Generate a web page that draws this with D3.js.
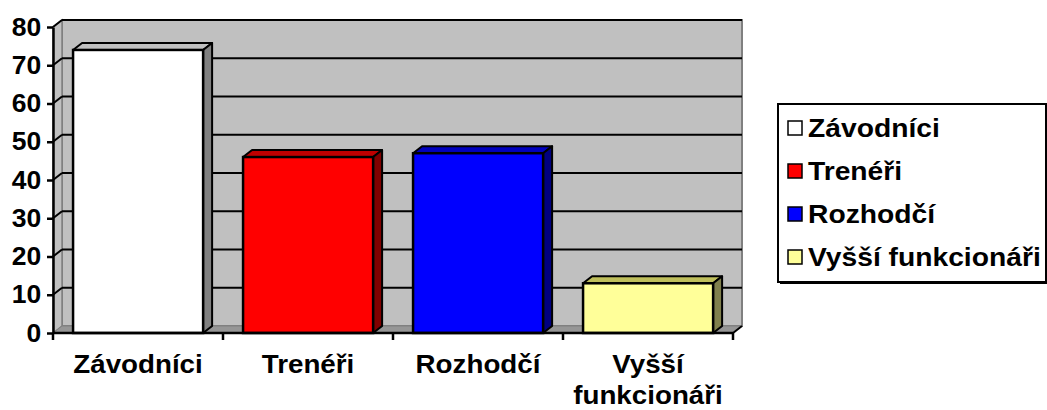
<!DOCTYPE html>
<html>
<head>
<meta charset="utf-8">
<script src="https://cdn.jsdelivr.net/npm/d3@7"></script>
<style>
    body { margin: 0; background: #fff; }
    text { font-family: "Liberation Sans", Arial, sans-serif; font-weight: bold; fill: #000; }
</style>
</head>
<body>
<script>
var categories = ["Závodníci", "Trenéři", "Rozhodčí", "Vyšší funkcionáři"];
var xLabels = [["Závodníci"], ["Trenéři"], ["Rozhodčí"], ["Vyšší", "funkcionáři"]];
var values = [74, 46, 47, 13];
var colors = ["#ffffff", "#ff0000", "#0000ff", "#ffff99"];
var yTicks = [0, 10, 20, 30, 40, 50, 60, 70, 80];

var width = 1047, height = 410;
var depthX = 9, depthY = -7;   // 3d offset of the back wall
var stretch = "scale(1.11,1)"; // text in the picture is a little wide

var x = d3.scaleBand().domain(categories).range([53, 733]);
var y = d3.scaleLinear().domain([0, 80]).range([333, 27]);

var svg = d3.select("body").append("svg")
    .attr("width", width)
    .attr("height", height);

function pts(arr) {
    return arr.map(function (p) { return p.join(","); }).join(" ");
}

var x0 = x.range()[0], x1 = x.range()[1];
var yTop = y(80), yBot = y(0);

// back wall
svg.append("rect")
    .attr("x", x0 + depthX)
    .attr("y", yTop + depthY)
    .attr("width", x1 - x0)
    .attr("height", yBot - yTop)
    .attr("fill", "#c0c0c0")
    .attr("stroke", "#808080")
    .attr("stroke-width", 2);

// left wall
svg.append("polygon")
    .attr("points", pts([[x0, yTop], [x0 + depthX, yTop + depthY], [x0 + depthX, yBot + depthY], [x0, yBot]]))
    .attr("fill", "#c0c0c0")
    .attr("stroke", "#808080")
    .attr("stroke-width", 1.5);

// floor
svg.append("polygon")
    .attr("points", pts([[x0, yBot], [x0 + depthX, yBot + depthY], [x1 + depthX, yBot + depthY], [x1, yBot]]))
    .attr("fill", "#969696")
    .attr("stroke", "#808080")
    .attr("stroke-width", 1);

// gridlines on walls
var grid = svg.append("g").attr("class", "grid");
yTicks.filter(function (d) { return d > 0; }).forEach(function (t) {
    grid.append("line")
        .attr("x1", x0 + depthX).attr("x2", x1 + depthX)
        .attr("y1", y(t) + depthY).attr("y2", y(t) + depthY)
        .attr("stroke", "#000").attr("stroke-width", 2);
    grid.append("line")
        .attr("x1", x0).attr("x2", x0 + depthX)
        .attr("y1", y(t)).attr("y2", y(t) + depthY)
        .attr("stroke", "#000").attr("stroke-width", 2);
});

// right end of floor edge
svg.append("line")
    .attr("x1", x1).attr("y1", yBot)
    .attr("x2", x1 + depthX).attr("y2", yBot + depthY)
    .attr("stroke", "#000").attr("stroke-width", 2);

// bars
var barW = x.bandwidth() * 0.765;
var barOff = x.bandwidth() * 0.118;
var bars = svg.selectAll("g.bar")
    .data(categories)
    .enter().append("g")
    .attr("class", "bar");

bars.each(function (c, i) {
    var g = d3.select(this);
    var bx = x(c) + barOff, by = y(values[i]);
    var base = d3.color(colors[i]);
    var top = d3.rgb(base.r * 0.75, base.g * 0.75, base.b * 0.6);
    var side = d3.rgb(base.r * 0.5, base.g * 0.5, base.b * 0.5);
    if (i === 2) { top = d3.rgb(0, 0, 191); side = d3.rgb(0, 0, 128); }
    if (i === 0) { top = d3.rgb(192, 192, 192); side = d3.rgb(128, 128, 128); }

    g.append("polygon")
        .attr("points", pts([[bx, by], [bx + depthX, by + depthY], [bx + barW + depthX, by + depthY], [bx + barW, by]]))
        .attr("fill", top)
        .attr("stroke", "#000").attr("stroke-width", 2).attr("stroke-linejoin", "round");
    g.append("polygon")
        .attr("points", pts([[bx + barW, by], [bx + barW + depthX, by + depthY], [bx + barW + depthX, yBot + depthY], [bx + barW, yBot]]))
        .attr("fill", side)
        .attr("stroke", "#000").attr("stroke-width", 2).attr("stroke-linejoin", "round");
    g.append("rect")
        .attr("x", bx).attr("y", by)
        .attr("width", barW).attr("height", yBot - by)
        .attr("fill", colors[i])
        .attr("stroke", "#000").attr("stroke-width", 2.5);
});

// y axis
var yAxis = d3.axisLeft(y).tickValues(yTicks).tickSize(6).tickSizeOuter(0).tickPadding(5);
var yG = svg.append("g")
    .attr("transform", "translate(" + x0 + ",0)")
    .call(yAxis);
yG.select(".domain").attr("stroke-width", 2.5);
yG.selectAll(".tick line").attr("stroke-width", 2.5);
yG.selectAll(".tick text")
    .attr("font-size", 25)
    .attr("font-family", null)
    .attr("transform", "scale(1.06,1)");

// x axis line and tick marks at category edges
svg.append("line")
    .attr("x1", x0).attr("x2", x1)
    .attr("y1", yBot).attr("y2", yBot)
    .attr("stroke", "#000").attr("stroke-width", 2.5);
var edges = categories.map(function (c) { return x(c); }).concat([x1]);
svg.selectAll("line.xtick")
    .data(edges)
    .enter().append("line")
    .attr("class", "xtick")
    .attr("x1", function (d) { return d; }).attr("x2", function (d) { return d; })
    .attr("y1", yBot).attr("y2", yBot + 7)
    .attr("stroke", "#000").attr("stroke-width", 2.5);

// x labels
var xl = svg.selectAll("text.xlabel")
    .data(categories)
    .enter().append("text")
    .attr("class", "xlabel")
    .attr("font-size", 25)
    .attr("text-anchor", "middle")
    .attr("transform", function (c) {
        return "translate(" + (x(c) + x.bandwidth() / 2) + ",373) " + stretch;
    });
xl.each(function (c, i) {
    var t = d3.select(this);
    xLabels[i].forEach(function (line, k) {
        t.append("tspan").attr("x", 0).attr("dy", k === 0 ? 0 : 31).text(line);
    });
});

// legend
var legend = svg.append("g").attr("class", "legend");
var lx = 778, ly = 104, lw = 268, lh = 178, rowGap = 43;
legend.append("rect")
    .attr("x", lx + 2).attr("y", ly + 2)
    .attr("width", lw).attr("height", lh)
    .attr("fill", "#000");
legend.append("rect")
    .attr("x", lx).attr("y", ly)
    .attr("width", lw).attr("height", lh)
    .attr("fill", "#fff")
    .attr("stroke", "#000").attr("stroke-width", 2);

var items = legend.selectAll("g.item")
    .data(categories)
    .enter().append("g")
    .attr("class", "item")
    .attr("transform", function (d, i) { return "translate(" + (lx + 10) + "," + (ly + 24 + i * rowGap) + ")"; });
items.append("rect")
    .attr("x", 0).attr("y", -7)
    .attr("width", 14).attr("height", 14)
    .attr("fill", function (d, i) { return colors[i]; })
    .attr("stroke", "#000").attr("stroke-width", 1.5);
items.append("text")
    .attr("font-size", 25)
    .attr("dy", "0.36em")
    .attr("transform", "translate(20,0) scale(1.13,1)")
    .text(function (d) { return d; });
</script>
</body>
</html>
